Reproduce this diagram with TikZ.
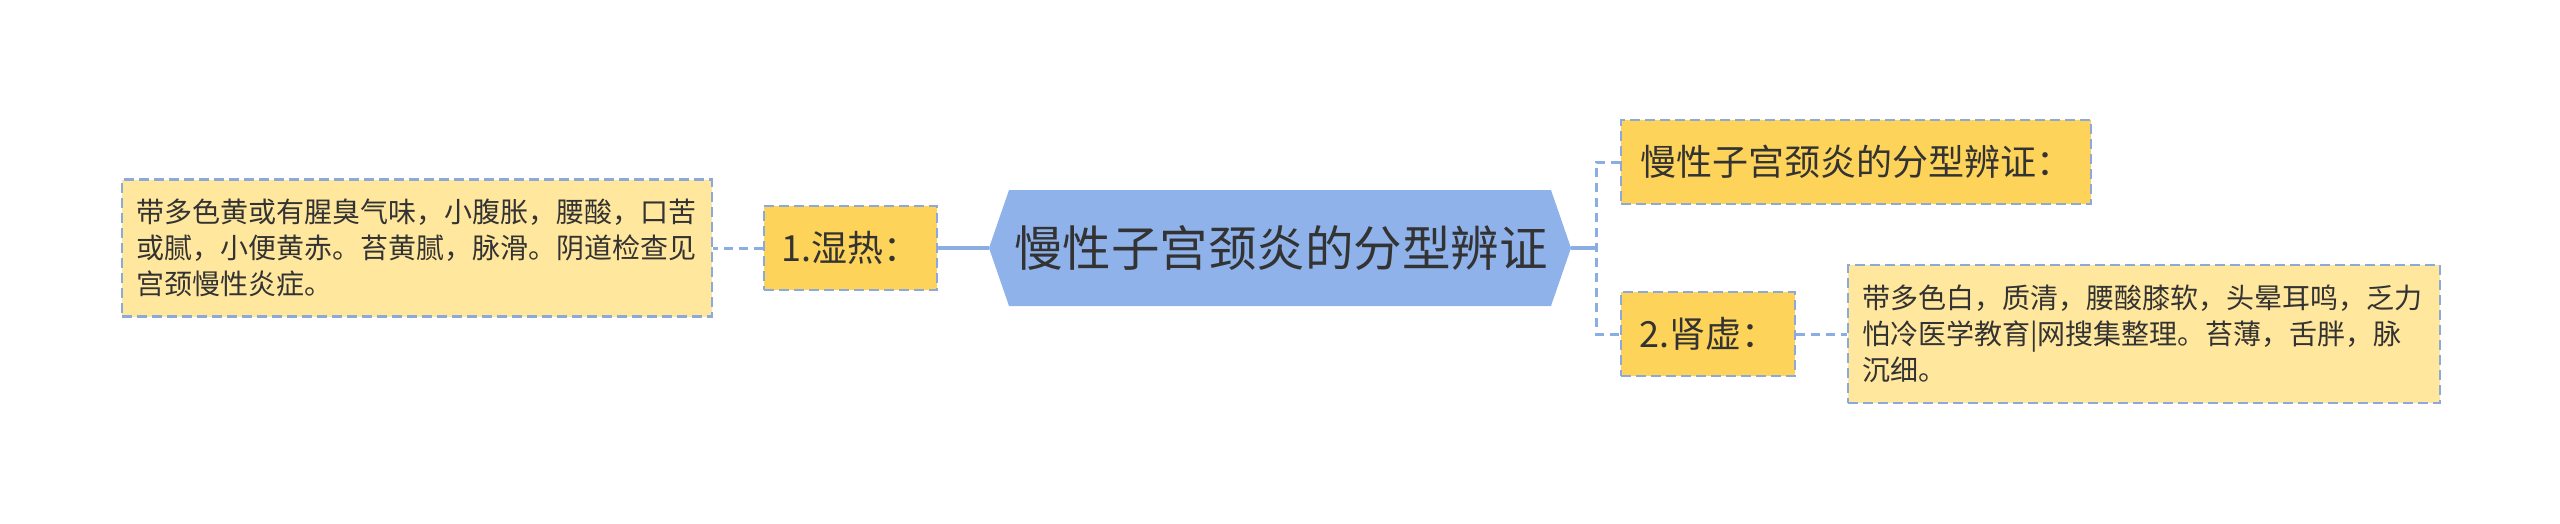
\documentclass[tikz,border=0pt]{standalone}
\usepackage{fontspec}
\setmainfont{Noto Sans CJK SC}
\usetikzlibrary{backgrounds}
\definecolor{hexfill}{HTML}{8EB2E9}
\definecolor{lvlfill}{HTML}{FDD359}
\definecolor{leaffill}{HTML}{FFE79E}
\definecolor{edgeblue}{HTML}{8AAEE2}
\definecolor{bordblue}{HTML}{8DA9DA}
\definecolor{txt}{HTML}{333333}
\tikzset{
  boxline/.style={draw=bordblue, line width=2.5pt, dash pattern=on 10pt off 5pt},
  lvlbox/.style={boxline, fill=lvlfill, inner sep=0pt, minimum height=84pt, text=txt,
    font=\fontsize{36pt}{44pt}\selectfont, anchor=center},
  leafbox/.style={boxline, fill=leaffill, inner xsep=14pt, inner ysep=0pt, minimum height=137pt,
    align=left, text=txt, font=\fontsize{28pt}{36pt}\selectfont, anchor=center},
  titlenode/.style={inner sep=0pt, text=txt, font=\fontsize{48.5pt}{56pt}\selectfont},
  thickedge/.style={draw=edgeblue, line width=4pt},
  dashedge/.style={draw=edgeblue, line width=3pt, dash pattern=on 9pt off 6pt}
}
\begin{document}
\begin{tikzpicture}[x=1pt, y=-1pt]
\useasboundingbox (0,0) rectangle (2560,523);
\fill[hexfill] (1009,190) -- (1551,190) -- (1571,248) -- (1551,306) -- (1009,306) -- (989,248) -- cycle;
\coordinate (hl) at (989,248);
\coordinate (hr) at (1571,248);
\node[titlenode] (root) at (1281,248) {慢性子宫颈炎的分型辨证};
\node[lvlbox, minimum width=173pt] (n1) at (850.5,248) {1.湿热：};
\node[leafbox, text width=562pt] (leaf1) at (417,248)
  {带多色黄或有腥臭气味，小腹胀，腰酸，口苦\\或腻，小便黄赤。苔黄腻，脉滑。阴道检查见\\宫颈慢性炎症。};
\node[lvlbox, minimum width=470pt] (n2) at (1856,162) {慢性子宫颈炎的分型辨证：};
\node[lvlbox, minimum width=174pt] (n3) at (1708,334) {2.肾虚：};
\node[leafbox, text width=564pt, minimum height=138pt] (leaf2) at (2144,334)
  {带多色白，质清，腰酸膝软，头晕耳鸣，乏力\\怕冷医学教育|网搜集整理。苔薄，舌胖，脉\\沉细。};
\coordinate (j) at (1596,248);
\begin{scope}[on background layer]
\draw[thickedge] (hl) -- (n1.east);
\draw[thickedge] (hr) -- (j);
\end{scope}
\draw[dashedge] (n1.west) -- (leaf1.east);
\draw[dashedge] (n2.west) -| (j) |- (n3.west);
\draw[dashedge] (n3.east) -- (leaf2.west);
\end{tikzpicture}
\end{document}
